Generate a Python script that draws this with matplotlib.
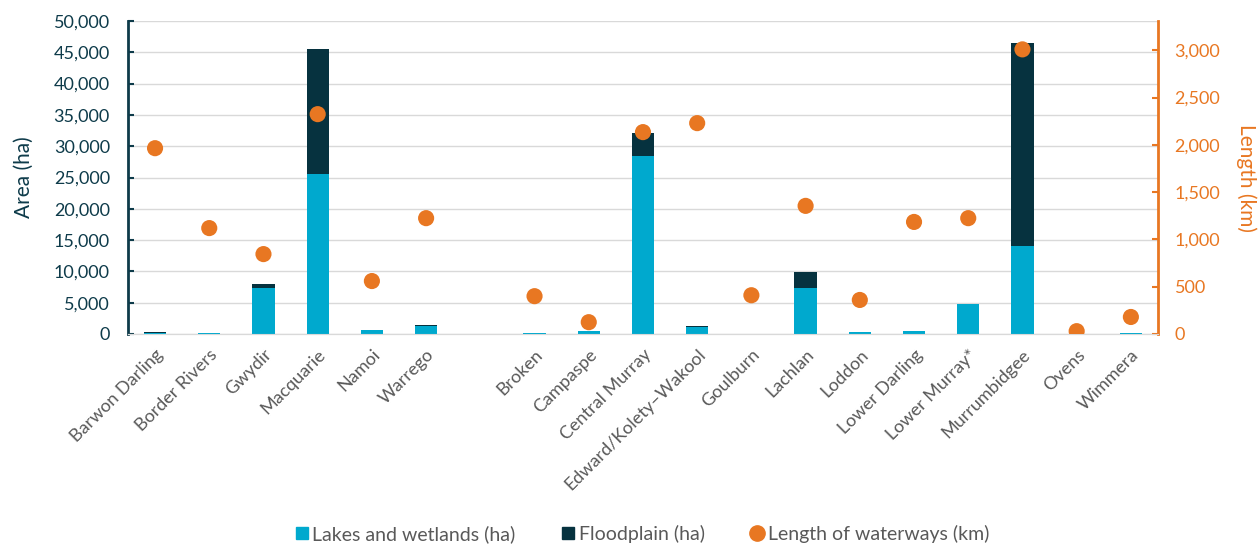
import matplotlib
matplotlib.use("Agg")
import matplotlib.pyplot as plt
from matplotlib.lines import Line2D
from matplotlib.ticker import FuncFormatter
import numpy as np

plt.rcParams['font.family'] = ['Lato', 'DejaVu Sans']

# Northern basin catchments, a blank slot, then southern basin catchments
categories = ["Barwon Darling", "Border Rivers", "Gwydir", "Macquarie", "Namoi", "Warrego",
              "",
              "Broken", "Campaspe", "Central Murray", "Edward/Kolety\u2013Wakool", "Goulburn",
              "Lachlan", "Loddon", "Lower Darling", "Lower Murray*", "Murrumbidgee", "Ovens", "Wimmera"]

lakes_wetlands = [100, 200, 7300, 25600, 650, 1250,
                  np.nan,
                  200, 500, 28500, 1150, 60, 7400, 300, 430, 4750, 14000, 0, 100]
floodplain = [150, 0, 700, 19900, 0, 250,
              np.nan,
              0, 0, 3600, 100, 0, 2500, 0, 0, 100, 32500, 0, 0]
length_km = [1965, 1120, 845, 2325, 560, 1225,
             np.nan,
             400, 125, 2135, 2230, 410, 1355, 360, 1185, 1225, 3010, 30, 180]

c_lakes = "#00A9CE"
c_flood = "#06323F"
c_len = "#E87722"
c_left = "#0E3B4A"
c_text = "#595959"

fig = plt.figure(figsize=(12.58, 5.47), dpi=100)
ax = fig.add_axes([0.1017, 0.3894, 0.8188, 0.5722])
ax2 = ax.twinx()

x = np.arange(len(categories))
lw = np.nan_to_num(np.array(lakes_wetlands, dtype=float))
fp = np.nan_to_num(np.array(floodplain, dtype=float))
ax.bar(x, lw, width=0.41, color=c_lakes, zorder=3)
ax.bar(x, fp, width=0.41, bottom=lw, color=c_flood, zorder=3)
ax2.scatter(x, length_km, s=135, color=c_len, zorder=4, edgecolors='none')

ax.set_xlim(-0.5, len(categories) - 0.5)
ax.set_ylim(0, 50000)
ax.set_yticks(np.arange(0, 50001, 5000))
ax.yaxis.set_major_formatter(FuncFormatter(lambda v, p: f"{int(v):,}"))
ax.grid(axis='y', color='#D9D9D9', linewidth=1, zorder=0)
ax.set_axisbelow(True)

ax2.set_ylim(0, 3310)
ax2.set_yticks(np.arange(0, 3001, 500))
ax2.yaxis.set_major_formatter(FuncFormatter(lambda v, p: f"{int(v):,}"))

ax.set_xticks(x)
ax.set_xticklabels(categories, rotation=45, ha='right', rotation_mode='anchor',
                   fontsize=13, color=c_text)
ax.tick_params(axis='x', length=0, pad=9)

ax.tick_params(axis='y', direction='in', length=4, width=1.5, color=c_left,
               labelsize=13, labelcolor=c_left, pad=13)
ax2.tick_params(axis='y', direction='in', length=4, width=1.5, color=c_len,
                labelsize=13, labelcolor=c_len, pad=12)

for a in (ax, ax2):
    a.spines['top'].set_visible(False)
    a.spines['bottom'].set_color('#D9D9D9')
ax.spines['right'].set_visible(False)
ax.spines['left'].set_color(c_left)
ax.spines['left'].set_linewidth(2)
ax2.spines['left'].set_visible(False)
ax2.spines['right'].set_color(c_len)
ax2.spines['right'].set_linewidth(2)

ax.set_ylabel("Area (ha)", fontsize=15, color=c_left, labelpad=14)
ax2.set_ylabel("Length (km)", fontsize=15, color=c_len, rotation=270, labelpad=26)

handles = [
    Line2D([], [], marker='s', linestyle='none', color=c_lakes, markersize=9),
    Line2D([], [], marker='s', linestyle='none', color=c_flood, markersize=9),
    Line2D([], [], marker='o', linestyle='none', color=c_len, markersize=11),
]
labels = ["Lakes and wetlands (ha)", "Floodplain (ha)", "Length of waterways (km)"]
fig.legend(handles, labels, loc='lower center', bbox_to_anchor=(0.51, -0.025), ncol=3,
           frameon=False, fontsize=14, labelcolor=c_text, handletextpad=0.15,
           columnspacing=2.3, handlelength=0.8)

fig.savefig("out.png", dpi=100)
